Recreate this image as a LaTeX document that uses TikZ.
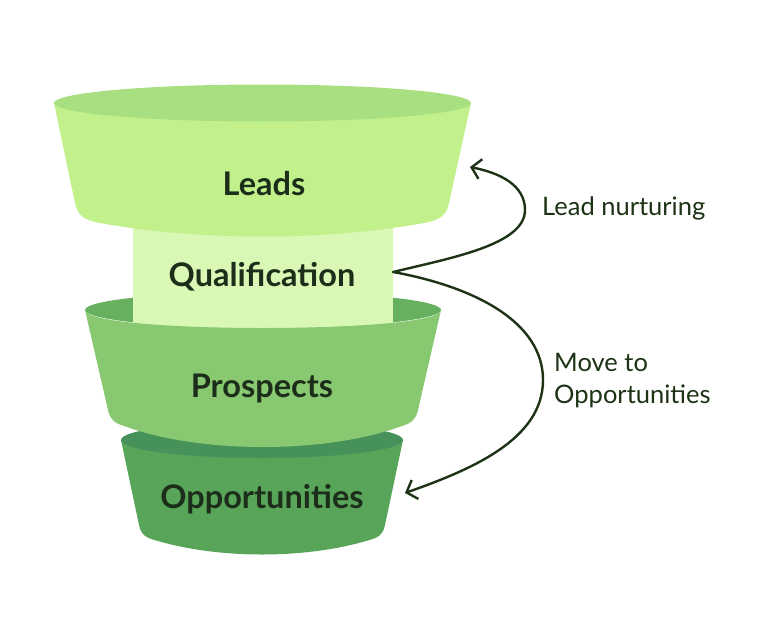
\documentclass[tikz,border=0pt]{standalone}
\usepackage{fontspec}
\setmainfont{Lato}
\usetikzlibrary{arrows.meta}
\definecolor{leadsTop}{HTML}{A8DF80}
\definecolor{leadsBody}{HTML}{C2F08B}
\definecolor{qualFill}{HTML}{D9F7B5}
\definecolor{prosTop}{HTML}{66B060}
\definecolor{prosBody}{HTML}{88C870}
\definecolor{oppTop}{HTML}{46925A}
\definecolor{oppBody}{HTML}{58A55A}
\definecolor{ink}{HTML}{1C2E1A}
\definecolor{lineInk}{HTML}{1D3316}
\tikzset{
  stagelabel/.style={font=\fontsize{32.5}{36}\selectfont\bfseries, text=ink, inner sep=0pt},
  sidelabel/.style={font=\fontsize{25.5}{32}\selectfont, text=lineInk, inner sep=0pt, align=left},
  flowarrow/.style={draw=lineInk, line width=2.4pt, line cap=round, line join=round,
    -{Straight Barb[length=9pt,width=20pt,line width=2.4pt]}}
}
\begin{document}
\begin{tikzpicture}[x=1pt,y=-1pt]
\useasboundingbox (0,0) rectangle (760,640);
% Opportunities
\fill[oppBody] (121,440) -- (139,525) .. controls (141,535) and (146,538) .. (158,541)
  .. controls (220,559) and (304,559) .. (366,541) .. controls (378,538) and (383,535) .. (385,525)
  -- (403,440) -- cycle;
\fill[oppTop] (262,440) ellipse [x radius=141, y radius=18];
% Prospects
\fill[prosTop] (263,310) ellipse [x radius=178, y radius=18];
\node[fill=qualFill, minimum width=260pt, minimum height=114pt, inner sep=0pt] (qualbox) at (263,272) {};
\fill[prosBody] (85,310) -- (108,410) .. controls (110,419) and (114,423) .. (124,426)
  .. controls (200,454) and (326,454) .. (402,426) .. controls (412,423) and (416,419) .. (418,410)
  -- (441,310) .. controls (441,334) and (85,334) .. (85,310) -- cycle;
% Leads
\fill[leadsBody] (54,103) -- (75,203) .. controls (78,216) and (84,220) .. (100,223)
  .. controls (200,241) and (324,241) .. (424,223) .. controls (440,220) and (446,216) .. (449,203)
  -- (471,103) -- cycle;
\fill[leadsTop] (262.5,103) ellipse [x radius=208.5, y radius=18.5];
% Labels
\node[stagelabel] (leads) at (264,184) {Leads};
\node[stagelabel] (qual) at (262,277) {Qualification};
\node[stagelabel] (pros) at (262,388) {Prospects};
\node[stagelabel] (opp) at (262,499) {Opportunities};
\node[sidelabel, anchor=west] (nurtlabel) at (542,208) {Lead nurturing};
\node[sidelabel, anchor=west] (movelabel) at (554,381) {Move to\\Opportunities};
% Arrows
\coordinate (nurtTip) at (470,167);
\coordinate (oppTip) at (405,493);
\draw[flowarrow] (qualbox.east) .. controls (450,258) and (525,245) .. (525,210)
  .. controls (525,185) and (500,173) .. (nurtTip);
\draw[flowarrow] (qualbox.east) .. controls (475,287) and (543,322) .. (543,380)
  .. controls (543,440) and (470,470) .. (oppTip);
\end{tikzpicture}
\end{document}
